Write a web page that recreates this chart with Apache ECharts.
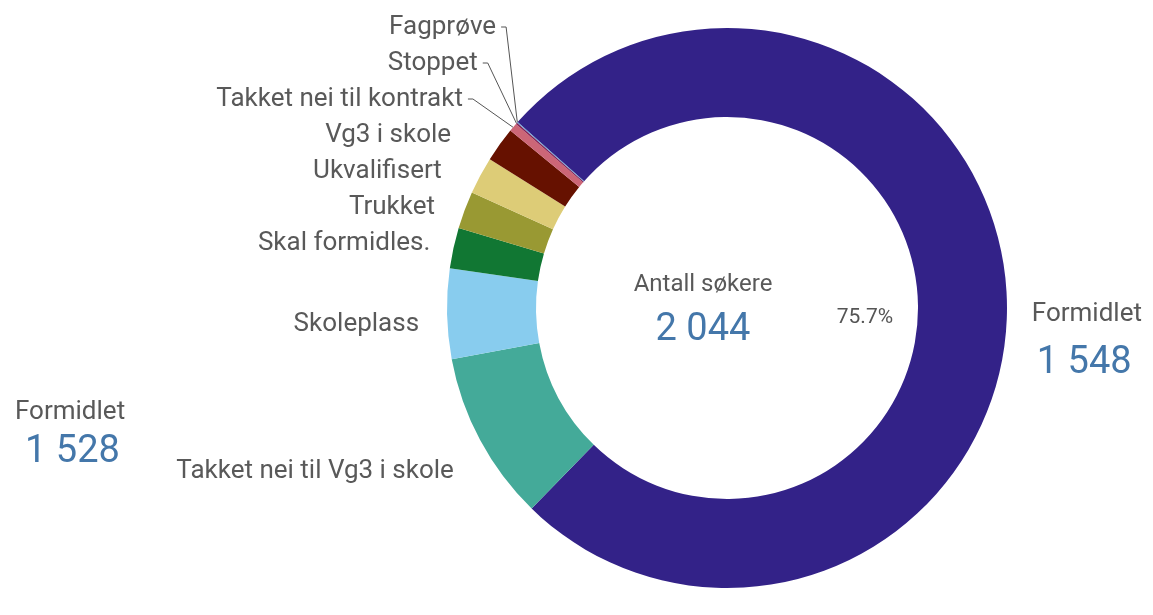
<!DOCTYPE html>
<html lang="no">
<head>
<meta charset="UTF-8">
<title>Antall søkere</title>
<style>
    html, body { margin: 0; padding: 0; background: #fff; }
    #chart { width: 1153px; height: 615px; }
</style>
</head>
<body>
<div id="chart"></div>
<script src="https://cdn.jsdelivr.net/npm/echarts@6/dist/echarts.min.js"></script>
<script>
    // data
    var categories = ['Formidlet', 'Takket nei til Vg3 i skole', 'Skoleplass', 'Skal formidles.', 'Trukket',
        'Ukvalifisert', 'Vg3 i skole', 'Takket nei til kontrakt', 'Stoppet', 'Fagprøve'];
    var values = [1548, 200, 106, 48, 44, 44, 41, 10, 2, 1];
    var centerTitle = 'Antall søkere';
    var sideTitle = 'Formidlet';
    var sideValue = 1528;

    var colors = ['#332288', '#44aa99', '#88ccee', '#117733', '#999933', '#ddcc77', '#661100', '#cc6677', '#882255', '#6699cc'];
    var textGrey = '#595959';
    var numBlue = '#4477aa';
    var font = 'Roboto, "Noto Sans", sans-serif';

    var pieCenter = [727, 308];
    var pieRadius = [191, 280];
    var startAng = 138.4;

    function fmt(n) { // 2044 -> "2 044"
        return String(n).replace(/\B(?=(\d{3})+(?!\d))/g, ' ');
    }
    var total = values.reduce(function (a, b) { return a + b; }, 0);
    // labels of the small slices at the top-left are stacked upwards in their own (invisible) series
    function inTopStack(i) { return values[i] / total < 0.03; }
    function thin(i) { return values[i] / total < 0.01; }

    var labelBase = {
        color: textGrey,
        fontSize: 26,
        lineHeight: 34,
        fontFamily: font
    };
    var lineStyle = { color: '#555', width: 1 };

    // ring + labels of the bigger slices
    var ringData = categories.map(function (name, i) {
        var item = {
            name: name,
            value: values[i],
            itemStyle: { color: colors[i] },
            label: { show: !inTopStack(i) },
            labelLine: { show: false }
        };
        if (i === 0) {
            item.label = {
                show: true,
                width: 120,
                formatter: '{n|{b}}\n{v|' + fmt(values[i]) + '}'
            };
            item.labelLine = { show: false, length: 10, length2: 10 };
        }
        return item;
    });

    var stackData = categories.map(function (name, i) {
        return {
            name: name,
            value: values[i],
            label: { show: inTopStack(i) },
            labelLine: { show: thin(i) }
        };
    });

    var chart = echarts.init(document.getElementById('chart'));
    var option = {
        animation: false,
        textStyle: { fontFamily: font },
        graphic: [
            { type: 'text', x: 703, y: 285, style: { text: centerTitle, fill: textGrey, font: '24px ' + font, align: 'center', verticalAlign: 'middle' } },
            { type: 'text', x: 703, y: 330, style: { text: fmt(total), fill: numBlue, font: '38px ' + font, align: 'center', verticalAlign: 'middle' } },
            { type: 'text', x: 15, y: 412, style: { text: sideTitle, fill: textGrey, font: '26px ' + font, align: 'left', verticalAlign: 'middle' } },
            { type: 'text', x: 25, y: 452, style: { text: fmt(sideValue), fill: numBlue, font: '38px ' + font, align: 'left', verticalAlign: 'middle' } }
        ],
        series: [
            {
                type: 'pie',
                center: pieCenter,
                radius: pieRadius,
                startAngle: startAng,
                clockwise: true,
                silent: true,
                data: ringData,
                label: Object.assign({
                    position: 'outside',
                    rich: {
                        n: { fontSize: 26, lineHeight: 40, color: textGrey, fontFamily: font },
                        v: { fontSize: 38, lineHeight: 58, color: numBlue, fontFamily: font, padding: [0, 0, 0, 5] }
                    }
                }, labelBase),
                labelLine: { length: 15, length2: 8, lineStyle: lineStyle },
                labelLayout: function (p) {
                    if (p.dataIndex === 0) return { dy: 46 };
                    if (p.dataIndex === 1) return { dy: 24 };
                    if (p.dataIndex === 2) return { dy: 10 };
                    return {};
                }
            },
            {
                // same slices, transparent: only carries the stacked labels of the small slices
                type: 'pie',
                top: 0,
                left: 0,
                width: 1153,
                height: 261,
                center: pieCenter,
                radius: pieRadius,
                startAngle: startAng,
                clockwise: true,
                silent: true,
                avoidLabelOverlap: true,
                data: stackData,
                itemStyle: { color: 'rgba(0,0,0,0)' },
                label: Object.assign({ position: 'outside' }, labelBase),
                labelLine: { length: 15, length2: 5, lineStyle: lineStyle }
            },
            {
                // percentage label inside the hole
                type: 'pie',
                center: pieCenter,
                radius: [100, 170],
                startAngle: startAng,
                clockwise: true,
                silent: true,
                percentPrecision: 1,
                data: categories.map(function (name, i) { return { name: name, value: values[i] }; }),
                itemStyle: { color: 'rgba(0,0,0,0)' },
                label: {
                    show: true,
                    position: 'inside',
                    color: '#555',
                    fontSize: 21,
                    fontFamily: font,
                    formatter: function (p) { return p.dataIndex === 0 ? p.percent + '%' : ''; }
                },
                labelLine: { show: false },
                labelLayout: function (p) {
                    if (p.dataIndex === 0) return { dy: 15 };
                    return {};
                }
            }
        ]
    };
    chart.setOption(option);
</script>
</body>
</html>
